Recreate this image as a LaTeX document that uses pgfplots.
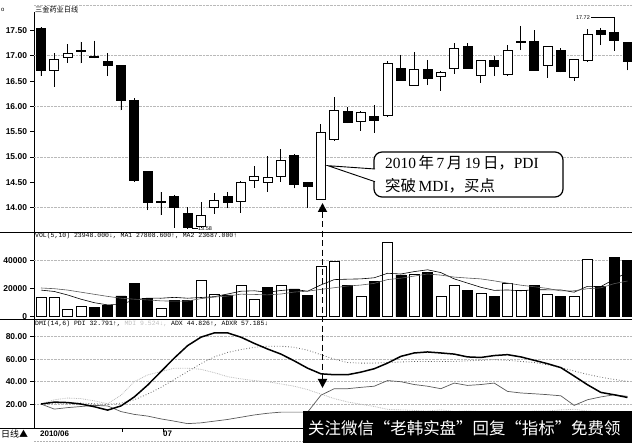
\documentclass[border=0pt]{standalone}
\usepackage{fontspec}
\setmainfont{Liberation Serif}
\newfontfamily\lsans{Liberation Sans}
\newfontfamily\lmono{Liberation Mono}
\newfontfamily\cjk{Noto Sans CJK SC}
\usepackage{pgfplots}
\pgfplotsset{compat=1.18}
\usepgfplotslibrary{statistics}
\usetikzlibrary{arrows.meta}

\pgfplotsset{
  panel/.style={
    scale only axis, width=598bp,
    xmin=-0.525, xmax=44.34, xtick=\empty,
    axis x line=none, axis y line*=left,
    axis line style={line width=0.8bp},
    tick align=outside, major tick length=3.5bp,
    ytick style={black, line width=0.6bp},
    yticklabel style={font=\lsans\bfseries\fontsize{8.5}{9}\selectfont},
    grid style={densely dotted, gray!55, line width=0.6bp},
    scaled y ticks=false,
    boxplot/draw direction=y,
  },
}
% white candle: index, low, open, close, high
\newcommand\cw[5]{\addplot[draw=black, fill=white, line width=0.9bp,
  boxplot prepared={draw position=#1, lower whisker=#2, lower quartile=#3,
  median=#3, upper quartile=#4, upper whisker=#5, box extend=0.675, whisker extend=0}]
  coordinates {};}
% black candle: index, low, close, open, high
\newcommand\cb[5]{\addplot[draw=black, fill=black, line width=0.9bp,
  boxplot prepared={draw position=#1, lower whisker=#2, lower quartile=#3,
  median=#3, upper quartile=#4, upper whisker=#5, box extend=0.675, whisker extend=0}]
  coordinates {};}

\begin{document}
\begin{tikzpicture}[x=1bp,y=1bp]
\path[use as bounding box] (0,0) rectangle (632,443);

% ---------------- price panel
\begin{axis}[panel, at={(34bp,211bp)}, anchor=south west, height=232bp,
  ymin=13.518, ymax=18.103,
  ytick={14,14.5,15,15.5,16,16.5,17,17.5},
  yticklabels={14.00,14.50,15.00,15.50,16.00,16.50,17.00,17.50},
  extra y ticks={14,15,16,17,18}, extra y tick labels={},
  extra y tick style={grid=major, major tick length=0pt},
  y axis line style={shorten >=12bp}]
\cb{0}{16.60}{16.72}{17.55}{17.56}
\cw{1}{16.38}{16.72}{16.92}{17.05}
\cw{2}{16.86}{16.97}{17.05}{17.23}
\cb{3}{16.85}{17.09}{17.11}{17.28}
\cb{4}{16.95}{16.975}{16.99}{17.30}
\cb{5}{16.60}{16.80}{16.88}{17.05}
\cb{6}{15.92}{16.11}{16.80}{16.81}
\cb{7}{14.52}{14.53}{16.11}{16.16}
\cb{8}{13.95}{14.10}{14.71}{14.72}
\cb{9}{13.85}{14.11}{14.13}{14.31}
\cb{10}{13.60}{14.01}{14.22}{14.25}
\cb{11}{13.58}{13.61}{13.89}{14.01}
\cw{12}{13.60}{13.62}{13.85}{14.12}
\cw{13}{13.88}{14.00}{14.15}{14.29}
\cb{14}{13.99}{14.10}{14.22}{14.31}
\cw{15}{13.90}{14.12}{14.49}{14.53}
\cw{16}{14.38}{14.54}{14.61}{14.82}
\cw{17}{14.31}{14.49}{14.59}{15.01}
\cw{18}{14.51}{14.61}{14.93}{15.15}
\cb{19}{14.38}{14.45}{15.04}{15.05}
\cb{20}{13.99}{14.41}{14.49}{14.51}
\cw{21}{14.16}{14.17}{15.48}{15.65}
\cw{22}{15.33}{15.34}{15.92}{16.19}
\cb{23}{15.67}{15.69}{15.90}{15.99}
\cw{24}{15.52}{15.71}{15.89}{15.90}
\cb{25}{15.48}{15.72}{15.81}{16.03}
\cw{26}{15.81}{15.82}{16.85}{16.90}
\cb{27}{16.51}{16.52}{16.75}{17.02}
\cw{28}{16.41}{16.42}{16.74}{17.08}
\cb{29}{16.42}{16.55}{16.74}{16.92}
\cw{30}{16.31}{16.59}{16.67}{16.70}
\cw{31}{16.65}{16.75}{17.15}{17.26}
\cb{32}{16.74}{16.75}{17.19}{17.25}
\cw{33}{16.46}{16.62}{16.90}{16.91}
\cb{34}{16.60}{16.78}{16.90}{17.00}
\cw{35}{16.62}{16.63}{17.11}{17.21}
\cb{36}{17.11}{17.27}{17.29}{17.59}
\cb{37}{16.70}{16.72}{17.28}{17.50}
\cw{38}{16.57}{16.80}{17.18}{17.19}
\cb{39}{16.67}{16.69}{17.10}{17.15}
\cw{40}{16.51}{16.58}{16.93}{16.94}
\cw{41}{16.89}{16.90}{17.43}{17.52}
\cb{42}{17.21}{17.42}{17.50}{17.55}
\cb{43}{17.10}{17.31}{17.46}{17.72}
\cb{44}{16.71}{16.88}{17.26}{17.27}
\end{axis}

% ---------------- volume panel
\begin{axis}[panel, at={(34bp,123.5bp)}, anchor=south west, height=87.5bp,
  ymin=-2000, ymax=60500,
  ytick={0,20000,40000}, yticklabels={0,20000,40000},
  extra y ticks={40000}, extra y tick labels={},
  extra y tick style={grid=major, major tick length=0pt}]
\addplot[ybar, bar width=0.75, bar shift=0pt, draw=black, fill=white, line width=0.7bp]
  coordinates {(0,14000)(1,14000)(2,5500)(3,7400)(9,6000)(12,26200)(13,16000)
  (15,22100)(16,12600)(18,22100)(21,35700)(22,39800)(24,14800)(26,53100)(28,30300)
  (30,14800)(31,22100)(33,16700)(35,23800)(36,19100)(38,16000)(40,14800)(41,41000)};
\addplot[ybar, bar width=0.75, bar shift=0pt, draw=black, fill=black, line width=0.7bp]
  coordinates {(4,6400)(5,8400)(6,14800)(7,23600)(8,13100)(10,11900)(11,11400)
  (14,15500)(17,21200)(19,19800)(20,15000)(23,22100)(25,25000)(27,29800)(29,31400)
  (32,18600)(34,14300)(37,22600)(39,14300)(42,21400)(43,42100)(44,40000)};
\addplot[black, line width=0.6bp] coordinates {
  (0,19000)(1,18000)(2,15500)(3,12500)(4,10000)(5,8400)(6,8800)(7,12000)(8,13300)
  (9,13200)(10,13800)(11,13200)(12,13700)(13,14300)(14,16200)(15,18200)(16,18500)
  (17,17500)(18,18700)(19,19500)(20,18200)(21,22700)(22,26500)(23,26800)(24,27000)
  (25,27800)(26,31000)(27,30500)(28,32200)(29,33500)(30,31500)(31,27000)(32,24000)
  (33,21000)(34,18800)(35,19100)(36,18500)(37,19300)(38,19200)(39,19100)(40,17500)
  (41,21700)(42,21500)(43,26700)(44,31800)};
\addplot[gray!70!black, line width=0.6bp] coordinates {
  (0,20500)(1,20000)(2,19000)(3,17500)(4,16000)(5,14500)(6,13200)(7,12500)(8,12000)
  (9,11300)(10,11100)(11,11200)(12,12900)(13,14000)(14,14700)(15,16100)(16,15900)
  (17,15600)(18,16200)(19,17600)(20,18200)(21,19500)(22,20700)(23,21900)(24,22600)
  (25,23800)(26,26500)(27,27500)(28,29000)(29,30500)(30,29700)(31,28300)(32,27600)
  (33,27000)(34,25600)(35,24000)(36,22500)(37,21400)(38,20200)(39,18400)(40,18500)
  (41,20000)(42,20600)(43,23600)(44,25500)};
\end{axis}

% ---------------- DMI panel
\begin{axis}[panel, at={(34bp,15bp)}, anchor=south west, height=108.5bp,
  ymin=-1.07, ymax=95.2,
  ytick={20,40,60,80}, yticklabels={20.00,40.00,60.00,80.00},
  ymajorgrids]
% ADXR
\addplot[gray!75!black, dotted, line width=0.8bp] coordinates {
  (0,20.5)(1,21)(2,21)(3,21)(4,20.5)(5,20)(6,21)(7,24)(8,29)(9,35)(10,42)(11,49)
  (12,56)(13,62)(14,66)(15,68.5)(16,70.5)(17,71.5)(18,71.5)(19,70.5)(20,68)(21,64)
  (22,60)(23,57)(24,56.5)(25,56.5)(26,57)(27,57.5)(28,58)(29,58)(30,58)(31,58)
  (32,58.5)(33,59)(34,59.5)(35,59)(36,58)(37,57)(38,55)(39,52.5)(40,49.5)(41,46.5)
  (42,44)(43,42)(44,40.3)};
% MDI
\addplot[gray!55, densely dotted, line width=0.8bp] coordinates {
  (0,20.2)(1,24)(2,25.5)(3,25)(4,23)(5,20.5)(6,28)(7,40)(8,46)(9,49)(10,52)(11,52)
  (12,51)(13,48)(14,44.5)(15,42.5)(16,41)(17,40)(18,38)(19,36)(20,33)(21,29)(22,25)
  (23,22)(24,20)(25,18)(26,15.5)(27,15)(28,14.5)(29,14)(30,15)(31,13.5)(32,14)
  (33,13.5)(34,12.5)(35,13.5)(36,13)(37,14)(38,14)(39,15)(40,15.5)(41,14)(42,13.5)
  (43,13.5)(44,13)};
% PDI
\addplot[gray!70!black, line width=0.7bp] coordinates {
  (0,20.2)(1,15.7)(2,17)(3,18)(4,19)(5,18.5)(6,13.5)(7,11)(8,9.5)(9,7)(10,5)(11,2.8)
  (12,3.5)(13,5)(14,6.5)(15,8.5)(16,10.5)(17,12)(18,13)(19,13)(20,13)(21,28)(22,33.8)
  (23,33.8)(24,35)(25,36)(26,41)(27,40)(28,37.5)(29,36)(30,33.8)(31,38.8)(32,36.7)
  (33,37.5)(34,38.8)(35,31.4)(36,30)(37,29.3)(38,28.5)(39,27.5)(40,19)(41,24)
  (42,26.5)(43,28.4)(44,27)};
% ADX
\addplot[black, line width=1.5bp] coordinates {
  (0,20.2)(1,21.9)(2,21.5)(3,20.2)(4,17.8)(5,14.8)(6,18.5)(7,26.5)(8,37)(9,49)(10,61)
  (11,72)(12,79.5)(13,83.3)(14,83.3)(15,79.5)(16,74)(17,69)(18,64.5)(19,58.5)(20,52)
  (21,47)(22,46.2)(23,46.2)(24,48.5)(25,51.5)(26,56.5)(27,62.5)(28,65.5)(29,66.4)
  (30,65.5)(31,64.5)(32,62)(33,61.5)(34,63.2)(35,64)(36,62)(37,59)(38,56)(39,52.5)
  (40,45)(41,37.3)(42,30.5)(43,28.4)(44,26)};
\end{axis}

% ---------------- frame, headers, labels
\draw[line width=0.8bp] (0,211) -- (632,211);
\draw[line width=0.8bp] (0,123.5) -- (632,123.5);
\draw[line width=0.8bp] (0,15) -- (632,15);
\draw[densely dotted, gray!60, line width=0.5bp] (34,2) -- (632,2);
\draw[line width=0.6bp] (122,15) -- (122,11) (163,15) -- (163,11);

\node[anchor=west, inner sep=0, font=\lsans\fontsize{6}{6}\selectfont] at (1,433) {o};
\node[anchor=west, inner sep=0, font=\cjk\fontsize{7.2}{7.2}\selectfont] at (35,433) {三金药业日线};
\node[anchor=west, inner sep=0, font=\lmono\fontsize{6.5}{7}\selectfont] at (35,207)
  {VOL(5,10) 23948.000↓, MA1 27808.600↑, MA2 23687.000↑};
\node[anchor=west, inner sep=0, font=\lmono\fontsize{6.5}{7}\selectfont] at (35,119)
  {DMI(14,6) PDI 32.791↑, \textcolor{gray!50}{MDI 9.524↓,} ADX 44.826↑, ADXR 57.185↓};
\node[anchor=west, inner sep=0, font=\cjk\fontsize{9}{9}\selectfont] at (1,9) {日线▲};
\node[anchor=west, inner sep=0, font=\lsans\bfseries\fontsize{8}{8}\selectfont] at (40,9) {2010/06};
\node[anchor=west, inner sep=0, font=\lsans\bfseries\fontsize{8}{8}\selectfont] at (163,9) {07};

% low / high marks
\draw[line width=0.5bp] (192,214.3) -- (198,214.3);
\node[anchor=west, inner sep=0, font=\lsans\fontsize{5.5}{5.5}\selectfont] at (198,214.3) {13.58};
\draw[line width=0.5bp] (591,425.5) -- (614.5,425.5) -- (614.5,423.5);
\node[anchor=east, inner sep=0, font=\lsans\fontsize{5.5}{5.5}\selectfont] at (590,425.5) {17.72};

% callout
\draw[line width=1.2bp, fill=white, rounded corners=8bp] (374,246) rectangle (563,291);
\fill[white] (375.5,274) -- (328,277.3) -- (375.5,261.3) -- cycle;
\draw[line width=0.9bp] (375,274) -- (328,277.3) -- (375,261.3);
\node[anchor=west, inner sep=0, align=left, font=\fontsize{15.5}{22.5}\selectfont] at (385,268.5)
  {2010\,{\cjk 年}\,7\,{\cjk 月}\,19\,{\cjk 日，}PDI\\{\cjk 突破}\,MDI{\cjk ，买点}};

% buy-point arrow
\draw[line width=1.8bp, dash pattern=on 6bp off 3.5bp,
  {Triangle[width=9bp,length=9bp]}-{Triangle[width=9bp,length=9bp]}] (322.5,240) -- (322.5,55);

% watermark
\begin{scope}
\clip (303,0) rectangle (632,32);
\fill[black] (303,0) rectangle (632,32);
\node[anchor=west, inner sep=0, text=white, font=\cjk\fontsize{16.5}{16.5}\selectfont] at (308,15)
  {关注微信“老韩实盘”回复“指标”免费领};
\end{scope}
\end{tikzpicture}
\end{document}
